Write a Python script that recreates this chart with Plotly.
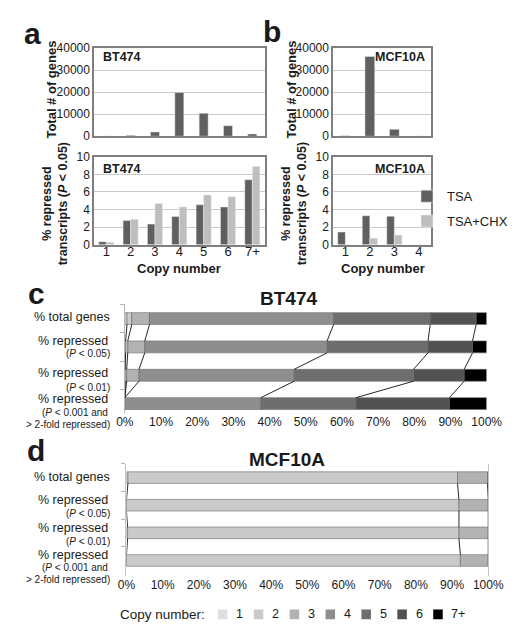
import numpy as np
import plotly.graph_objects as go

W, H = 521, 629
FONT = "Liberation Sans, Arial, Helvetica, sans-serif"
TXT = "#1a1a1a"

# ---------------- data ----------------
copy_bt = ["1", "2", "3", "4", "5", "6", "7+"]
bt_total_genes = [150, 400, 1950, 19900, 10450, 4800, 1050]
bt_tsa = [0.35, 2.75, 2.35, 3.2, 4.55, 4.3, 7.4]
bt_tsa_chx = [0.3, 2.9, 4.7, 4.3, 5.65, 5.45, 8.9]

copy_mcf = ["1", "2", "3", "4"]
mcf_total_genes = [250, 36300, 3150, 150]
mcf_tsa = [1.45, 3.3, 3.25, 0.0]
mcf_tsa_chx = [0.0, 0.75, 1.1, 0.0]

# stacked shares (%) per copy number; rows: total, P<0.05, P<0.01, P<0.001 & >2-fold
bt_share_1 = [0.6, 0.2, 0.1, 0.0]
bt_share_2 = [1.3, 0.6, 0.4, 0.0]
bt_share_3 = [4.9, 4.7, 3.4, 0.0]
bt_share_4 = [50.9, 50.4, 42.9, 37.6]
bt_share_5 = [26.7, 27.9, 33.0, 26.3]
bt_share_6 = [12.7, 12.3, 14.0, 25.8]
bt_share_7 = [2.9, 3.9, 6.2, 10.3]

mcf_share_1 = [0.4, 0.0, 0.3, 0.0]
mcf_share_2 = [91.1, 91.9, 91.6, 92.3]
mcf_share_3 = [8.3, 8.1, 8.1, 7.7]
mcf_share_4 = [0.2, 0.0, 0.0, 0.0]

row_main = ["% total genes", "% repressed", "% repressed", "% repressed"]
row_sub = [[], ["(<i>P</i> < 0.05)"], ["(<i>P</i> < 0.01)"],
           ["(<i>P</i> < 0.001 and", "> 2-fold repressed)"]]
pct_ticks = list(range(0, 101, 10))
pct_labels = [f"{v}%" for v in pct_ticks]
count_ticks = [0, 10000, 20000, 30000, 40000]
count_labels = ["0", "10000", "20000", "30000", "40000"]

copy_colors = ["#dedede", "#cacaca", "#b2b2b2", "#8e8e8e", "#6e6e6e", "#525252", "#000000"]
TSA_COLOR = "#606060"
CHX_COLOR = "#bebebe"


# ---------------- helpers ----------------
def fx(p):
    return p / W


def fy(p):
    return 1 - p / H


fig = go.Figure()

# ---------- panel a / b bar charts ----------
fig.add_trace(go.Bar(x=copy_bt, y=bt_total_genes, marker_color=TSA_COLOR,
                     showlegend=False, xaxis="x", yaxis="y", width=0.37))
fig.add_trace(go.Bar(x=copy_bt, y=bt_tsa, marker_color=TSA_COLOR, name="TSA",
                     legendgroup="tsa", xaxis="x2", yaxis="y2", showlegend=True))
fig.add_trace(go.Bar(x=copy_bt, y=bt_tsa_chx, marker_color=CHX_COLOR, name="TSA+CHX",
                     legendgroup="chx", xaxis="x2", yaxis="y2", showlegend=True))
fig.add_trace(go.Bar(x=copy_mcf, y=mcf_total_genes, marker_color=TSA_COLOR,
                     showlegend=False, xaxis="x3", yaxis="y3", width=0.4))
fig.add_trace(go.Bar(x=copy_mcf, y=mcf_tsa, marker_color=TSA_COLOR, name="TSA",
                     legendgroup="tsa", xaxis="x4", yaxis="y4", showlegend=False))
fig.add_trace(go.Bar(x=copy_mcf, y=mcf_tsa_chx, marker_color=CHX_COLOR, name="TSA+CHX",
                     legendgroup="chx", xaxis="x4", yaxis="y4", showlegend=False))

# ---------- panel c / d stacked bars ----------
BW = 0.42
rows = [0, 1, 2, 3]


def stacked(shares, xa, ya, group):
    arr = np.array(shares, dtype=float)
    cum = np.cumsum(arr, axis=0)
    start = cum - arr
    for k in range(arr.shape[0]):
        fig.add_trace(go.Bar(
            y=rows, x=arr[k], base=start[k], orientation="h",
            marker=dict(color=copy_colors[k], line=dict(color="#6a6a6a", width=0.6)),
            width=BW, offsetgroup=group, name=copy_bt[k], showlegend=False,
            xaxis=xa, yaxis=ya, hoverinfo="x+name"))
    # series connector lines between adjacent rows
    lx, ly = [], []
    for k in range(arr.shape[0] - 1):
        for i in range(len(rows) - 1):
            lx += [cum[k][i], cum[k][i + 1], None]
            ly += [rows[i] + BW / 2, rows[i + 1] - BW / 2, None]
    fig.add_trace(go.Scatter(x=lx, y=ly, mode="lines", line=dict(color="#111", width=0.9),
                             showlegend=False, hoverinfo="skip", xaxis=xa, yaxis=ya))


stacked([bt_share_1, bt_share_2, bt_share_3, bt_share_4, bt_share_5, bt_share_6, bt_share_7],
        "x5", "y5", "c")
stacked([mcf_share_1, mcf_share_2, mcf_share_3, mcf_share_4], "x6", "y6", "d")

# ---------- axes ----------
box = dict(showline=True, mirror=True, linecolor="#7f7f7f", linewidth=1.5)
tickfont = dict(family=FONT, size=12, color=TXT)

common_y = dict(showgrid=True, gridcolor="#c9c9c9", gridwidth=1, zeroline=False,
                ticks="", tickfont=tickfont, **box)
common_x = dict(type="category", ticks="", ticklabelstandoff=-6,
                tickfont=dict(family=FONT, size=13, color=TXT), **box)
count_y = dict(range=[0, 40000], tickvals=count_ticks, ticktext=count_labels, **common_y)
pct_y = dict(range=[0, 10], dtick=2, **common_y)

layout = dict(
    width=W, height=H, autosize=False,
    margin=dict(l=0, r=0, t=0, b=0),
    paper_bgcolor="white", plot_bgcolor="white",
    barmode="group",
    font=dict(family=FONT, color=TXT),
    showlegend=True,
    xaxis=dict(domain=[fx(81), fx(260)], anchor="y", showticklabels=False, **common_x),
    yaxis=dict(domain=[fy(124), fy(34)], anchor="x", **count_y),
    xaxis2=dict(domain=[fx(81), fx(260)], anchor="y2", **common_x),
    yaxis2=dict(domain=[fy(235), fy(145)], anchor="x2", **pct_y),
    xaxis3=dict(domain=[fx(332), fx(435)], anchor="y3", showticklabels=False, **common_x),
    yaxis3=dict(domain=[fy(124), fy(34)], anchor="x3", **count_y),
    xaxis4=dict(domain=[fx(332), fx(435)], anchor="y4", **common_x),
    yaxis4=dict(domain=[fy(235), fy(145)], anchor="x4", **pct_y),
    xaxis5=dict(domain=[fx(113.3), fx(493.3)], anchor="y5", range=[0, 100],
                tickvals=pct_ticks, ticktext=pct_labels, showgrid=False, zeroline=False,
                showline=False, ticks="", tickfont=tickfont),
    yaxis5=dict(domain=[fy(407), fy(296)], anchor="x5", range=[3.33, -0.5],
                tickvals=[-0.5, 0.5, 1.5, 2.5], ticks="outside", ticklen=4,
                tickcolor="#b5b5b5", showticklabels=False, showgrid=False, zeroline=False,
                showline=True, linecolor="#b5b5b5", linewidth=1),
    xaxis6=dict(domain=[fx(115), fx(495)], anchor="y6", range=[0, 100],
                tickvals=pct_ticks, ticktext=pct_labels, showgrid=False, zeroline=False,
                showline=False, ticks="", tickfont=tickfont),
    yaxis6=dict(domain=[fy(574), fy(459)], anchor="x6", range=[3.57, -0.5],
                tickvals=[-0.5, 0.5, 1.5, 2.5], ticks="outside", ticklen=4,
                tickcolor="#b5b5b5", showticklabels=False, showgrid=False, zeroline=False,
                showline=True, mirror=True, linecolor="#c4c4c4", linewidth=1),
    bargap=0.38,
    legend=dict(x=1.0, y=fy(170), xanchor="right", yanchor="top",
                font=dict(family=FONT, size=13, color=TXT), tracegroupgap=5,
                bgcolor="rgba(0,0,0,0)", traceorder="grouped", itemwidth=30),
)
fig.update_layout(**layout)

ann = []
shapes = []


def text(x, y, s, size, bold=False, xanchor="center", yanchor="middle", angle=0):
    ann.append(dict(x=fx(x), y=fy(y), xref="paper", yref="paper", showarrow=False,
                    text=f"<b>{s}</b>" if bold else s, xanchor=xanchor, yanchor=yanchor,
                    textangle=angle, font=dict(family=FONT, size=size, color=TXT)))


# panel letters
text(16, 19, "a", 30, True)
text(268, 17, "b", 30, True)
text(21, 285, "c", 30, True)
text(20, 445, "d", 30, True)

# in-plot cell-line labels
text(88, 43, "BT474", 12.5, True, xanchor="left")
text(88, 157, "BT474", 12.5, True, xanchor="left")
text(431, 43, "MCF10A", 12.5, True, xanchor="right")
text(431, 157, "MCF10A", 12.5, True, xanchor="right")

# axis titles
text(36, 76, "Total # of genes", 13, True, angle=-90)
text(288, 76, "Total # of genes", 13, True, angle=-90)
text(39.5, 193, "% repressed<br>transcripts (<i>P</i> < 0.05)", 12.5, True, angle=-90)
text(290.5, 193, "% repressed<br>transcripts (<i>P</i> < 0.05)", 12.5, True, angle=-90)
text(170, 259, "Copy number", 13, True)
text(384, 259, "Copy number", 13, True)

# stacked chart titles
text(285, 290, "BT474", 19, True)
text(284, 455, "MCF10A", 19, True)

# row labels
c_main_y = [309, 333, 366, 392.7]
c_sub_y = [[], [345.7], [380.5], [406.7, 419]]
d_main_y = [472.3, 495.7, 525, 552.3]
d_sub_y = [[], [510], [538.3], [565, 577.3]]
for main_y, sub_y in ((c_main_y, c_sub_y), (d_main_y, d_sub_y)):
    for i in range(4):
        text(100 if i == 0 else 97.5, main_y[i], row_main[i], 12.5, xanchor="right")
        for j, s in enumerate(row_sub[i]):
            xr = 97.5 if (i == 3 and j == 0) else 100
            text(xr, sub_y[i][j], s, 10, xanchor="right")

# copy-number key (built from the copy labels and colours)
LEG_Y = 613
text(200, LEG_Y, "Copy number:", 13.5, xanchor="right")
for k, (lab, col) in enumerate(zip(copy_bt, copy_colors)):
    x0 = 211 + k * 37.7
    shapes.append(dict(type="rect", xref="paper", yref="paper",
                       x0=fx(x0), x1=fx(x0 + 10), y0=fy(LEG_Y + 5), y1=fy(LEG_Y - 5),
                       fillcolor=col, line=dict(width=0)))
    text(x0 + 17, LEG_Y, lab, 12.5, xanchor="left")

fig.update_layout(annotations=ann, shapes=shapes)
fig.write_html("out.html")
